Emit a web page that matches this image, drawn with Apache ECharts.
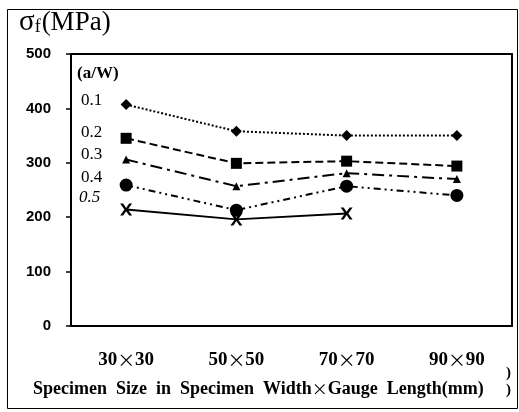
<!DOCTYPE html>
<html>
<head>
    <meta charset="UTF-8">
    <title>σf vs specimen size</title>
    <script src="https://cdn.jsdelivr.net/npm/echarts@6/dist/echarts.min.js"></script>
    <style>
        html, body { margin: 0; padding: 0; background: #fff; }
        #main { width: 519px; height: 412px; }
    </style>
</head>
<body>
<div id="main"></div>
<script type="text/javascript">
    // 数据
    var sizes = ['30×30', '50×50', '70×70', '90×90'];
    var yTicks = [0, 100, 200, 300, 400, 500];
    var aw01 = [407, 358, 350, 350];
    var aw02 = [345, 299, 303, 294];
    var aw03 = [306, 257, 281, 270];
    var aw04 = [259, 213, 257, 240];
    var aw05 = [214, 196, 207, null];

    var serif = '"Liberation Serif", "Times New Roman", serif';
    var cjk = '"Noto Sans CJK SC", sans-serif';
    var xMark = 'path://M0,0L2.5,0L5,3.6L7.5,0L10,0L6.4,5L10,10L7.5,10L5,6.4L2.5,10L0,10L3.6,5Z';

    function line(name, data, symbol, size, dash) {
        return {
            name: name,
            type: 'line',
            data: data,
            symbol: symbol,
            symbolSize: size,
            showAllSymbol: true,
            connectNulls: false,
            itemStyle: { color: '#000' },
            lineStyle: { color: '#000', width: 2, type: dash },
            z: 3
        };
    }

    // 宽的“×”用 CJK 字体
    function wide(s) {
        var p = s.split('×');
        return '{t|' + p[0] + '}{x|×}{t|' + p[1] + '}';
    }

    var myChart = echarts.init(document.getElementById('main'));
    var option = {
        animation: false,
        backgroundColor: '#fff',
        grid: { left: 71, right: 7, top: 54, bottom: 86, show: true, borderColor: '#000', borderWidth: 2 },
        xAxis: {
            type: 'category',
            data: sizes,
            boundaryGap: true,
            axisLine: { lineStyle: { color: '#000', width: 2 } },
            axisTick: { alignWithLabel: true, length: 12, lineStyle: { color: '#000', width: 2 } },
            axisLabel: {
                margin: 25, color: '#000',
                formatter: wide,
                rich: {
                    t: { fontFamily: serif, fontWeight: 'bold', fontSize: 19, color: '#000' },
                    x: { fontFamily: cjk, fontSize: 18, color: '#000' }
                }
            },
            splitLine: { show: false }
        },
        yAxis: {
            type: 'value',
            min: yTicks[0],
            max: yTicks[yTicks.length - 1],
            interval: 100,
            axisLine: { show: true, lineStyle: { color: '#000', width: 2 } },
            axisTick: { show: true, length: 5, lineStyle: { color: '#000', width: 1.5 } },
            axisLabel: { margin: 20, color: '#000', fontFamily: '"Liberation Sans", Arial, sans-serif', fontWeight: 'bold', fontSize: 15 },
            splitLine: { show: false }
        },
        graphic: [
            { type: 'rect', left: 5, top: 7, shape: { width: 510, height: 399 }, style: { fill: 'none', stroke: '#000', lineWidth: 1 }, z: 0 },
            {
                type: 'text', left: 19, top: 8,
                style: {
                    text: '{s|σ}{f|f}{m|(MPa)}',
                    rich: {
                        s: { fontFamily: serif, fontSize: 29, fill: '#000' },
                        f: { fontFamily: serif, fontSize: 18, fill: '#000', padding: [9, 1, 0, 0] },
                        m: { fontFamily: serif, fontSize: 27, fill: '#000' }
                    }
                }
            },
            { type: 'text', left: 77, top: 65, style: { text: '(a/W)', font: 'bold 17px ' + serif, fill: '#000' } },
            { type: 'text', left: 81, top: 92, style: { text: '0.1', font: '17px ' + serif, fill: '#000' } },
            { type: 'text', left: 81, top: 124, style: { text: '0.2', font: '17px ' + serif, fill: '#000' } },
            { type: 'text', left: 81, top: 146, style: { text: '0.3', font: '17px ' + serif, fill: '#000' } },
            { type: 'text', left: 81, top: 169, style: { text: '0.4', font: '17px ' + serif, fill: '#000' } },
            { type: 'text', left: 79, top: 189, style: { text: '0.5', font: 'italic 17px ' + serif, fill: '#000' } },
            {
                type: 'text', left: 33, top: 380,
                style: {
                    text: '{t|Specimen  Size  in  Specimen  Width}{x|×}{t|Gauge  Length(mm)}',
                    rich: {
                        t: { fontFamily: serif, fontWeight: 'bold', fontSize: 18, fill: '#000' },
                        x: { fontFamily: cjk, fontSize: 16, fill: '#000' }
                    }
                }
            },
            { type: 'text', left: 506, top: 366, style: { text: ')', font: 'bold 15px ' + serif, fill: '#000' } },
            { type: 'text', left: 506, top: 383, style: { text: ')', font: 'bold 15px ' + serif, fill: '#000' } }
        ],
        series: [
            line('0.1', aw01, 'diamond', 11, 'dotted'),
            line('0.2', aw02, 'rect', 11, [8, 4]),
            line('0.3', aw03, 'triangle', 8, [12, 5, 3, 5]),
            line('0.4', aw04, 'circle', 13, [7, 4, 2, 4, 2, 4]),
            line('0.5', aw05, xMark, 12, 'solid')
        ]
    };
    myChart.setOption(option);
</script>
</body>
</html>
